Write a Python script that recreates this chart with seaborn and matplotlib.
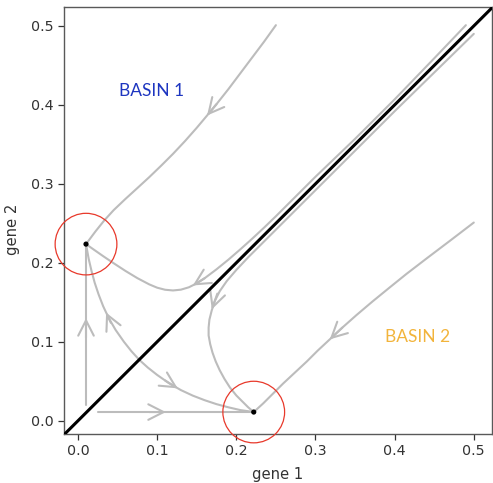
import matplotlib
matplotlib.use("Agg")
import matplotlib.pyplot as plt
from matplotlib.patches import Circle
import seaborn as sns
import pandas as pd

# ---- data ----
fixed_points_x = [0.0101, 0.222]
fixed_points_y = [0.2237, 0.011]

traj_A_x = [0.250, 0.235, 0.220, 0.205, 0.190, 0.175, 0.163, 0.150, 0.135, 0.120, 0.105,
            0.090, 0.075, 0.060, 0.045, 0.033, 0.022, 0.0101]
traj_A_y = [0.501, 0.480, 0.460, 0.440, 0.420, 0.401, 0.3865, 0.371, 0.354, 0.338, 0.323,
            0.3085, 0.2947, 0.281, 0.2667, 0.2535, 0.2397, 0.2237]

traj_B_x = [0.500, 0.470, 0.441, 0.415, 0.394, 0.372, 0.352, 0.334, 0.318, 0.303, 0.289,
            0.274, 0.259, 0.246, 0.234, 0.222]
traj_B_y = [0.251, 0.228, 0.206, 0.186, 0.169, 0.151, 0.134, 0.118, 0.103, 0.089, 0.075,
            0.061, 0.047, 0.034, 0.022, 0.011]

traj_C_x = [0.490, 0.450, 0.400, 0.350, 0.300, 0.270, 0.250, 0.235, 0.220, 0.205, 0.190,
            0.175, 0.160, 0.150, 0.140, 0.130, 0.120, 0.110, 0.100, 0.090, 0.075, 0.060,
            0.045, 0.032, 0.020, 0.0101]
traj_C_y = [0.501, 0.459, 0.407, 0.357, 0.309, 0.279, 0.259, 0.2445, 0.2305, 0.217, 0.204,
            0.1918, 0.1805, 0.174, 0.169, 0.166, 0.165, 0.1659, 0.1685, 0.1727, 0.1806, 0.1897,
            0.1995, 0.2083, 0.2167, 0.2237]

traj_D_x = [0.500, 0.450, 0.400, 0.350, 0.300, 0.260, 0.235, 0.215, 0.200, 0.188, 0.179,
            0.173, 0.169, 0.166, 0.165, 0.165, 0.167, 0.170, 0.174, 0.179, 0.185, 0.192,
            0.200, 0.208, 0.215, 0.222]
traj_D_y = [0.490, 0.441, 0.392, 0.342, 0.292, 0.252, 0.227, 0.207, 0.191, 0.177, 0.164,
            0.152, 0.140, 0.128, 0.118, 0.108, 0.097, 0.086, 0.075, 0.064, 0.053, 0.042,
            0.032, 0.024, 0.017, 0.011]

traj_E_x = [0.0101, 0.0101]
traj_E_y = [0.020, 0.2237]

traj_F_x = [0.025, 0.222]
traj_F_y = [0.011, 0.011]

traj_G_x = [0.0775, 0.0675, 0.058, 0.0475, 0.0388, 0.0318, 0.026, 0.021, 0.017, 0.0135, 0.0101]
traj_G_y = [0.077, 0.088, 0.100, 0.115, 0.130, 0.145, 0.160, 0.175, 0.190, 0.205, 0.2237]

traj_H_x = [0.077, 0.088, 0.100, 0.115, 0.130, 0.145, 0.160, 0.175, 0.190, 0.205, 0.222]
traj_H_y = [0.0775, 0.0675, 0.058, 0.0475, 0.0388, 0.0318, 0.026, 0.021, 0.017, 0.0135, 0.011]

diag_x = [-0.016, 0.53]
diag_y = [-0.016, 0.53]

# arrow tips and the points they come from
arrow_tip_x = [0.163, 0.318, 0.145, 0.169, 0.0101, 0.111, 0.0355, 0.126]
arrow_tip_y = [0.3865, 0.103, 0.1713, 0.141, 0.130, 0.011, 0.137, 0.041]
arrow_from_x = [0.175, 0.334, 0.160, 0.176, 0.0101, 0.090, 0.0415, 0.110]
arrow_from_y = [0.401, 0.118, 0.1805, 0.161, 0.105, 0.011, 0.124, 0.051]

basin_labels = ["BASIN 1", "BASIN 2"]
basin_x = [0.093, 0.429]
basin_y = [0.418, 0.106]
basin_colors = ["#1e36c0", "#f2b43c"]

ticks = [0.0, 0.1, 0.2, 0.3, 0.4, 0.5]
tick_labels = ["0.0", "0.1", "0.2", "0.3", "0.4", "0.5"]

# ---- plotting ----
sns.set_theme(style="ticks")
plt.rcParams["font.family"] = ["DejaVu Sans"]

fig = plt.figure(figsize=(4.93, 4.83), dpi=100)
fig.patch.set_facecolor("white")
ax = fig.add_axes([64 / 493, 1 - 434 / 483, 428 / 493, 427 / 483])

gray = "#bcbcbc"
trajs = [(traj_A_x, traj_A_y), (traj_B_x, traj_B_y), (traj_C_x, traj_C_y),
         (traj_D_x, traj_D_y), (traj_E_x, traj_E_y), (traj_F_x, traj_F_y),
         (traj_G_x, traj_G_y), (traj_H_x, traj_H_y)]
rows = []
for i, (xs, ys) in enumerate(trajs):
    for j, (xv, yv) in enumerate(zip(xs, ys)):
        rows.append({"traj": i, "order": j, "x": xv, "y": yv})
df = pd.DataFrame(rows)
for i in range(len(trajs)):
    sub = df[df["traj"] == i]
    sns.lineplot(data=sub, x="x", y="y", sort=False, estimator=None,
                 color=gray, lw=1.5, ax=ax, zorder=2,
                 solid_joinstyle="round", solid_capstyle="round")

for tx, ty, fx, fy in zip(arrow_tip_x, arrow_tip_y, arrow_from_x, arrow_from_y):
    ax.annotate("", xy=(tx, ty), xytext=(fx, fy),
                arrowprops=dict(arrowstyle="->,head_length=0.55,head_width=0.28",
                                color=gray, lw=1.5, shrinkA=0, shrinkB=0,
                                mutation_scale=20),
                zorder=2)

sns.lineplot(x=diag_x, y=diag_y, color="black", lw=2.2, ax=ax, zorder=3)

sns.scatterplot(x=fixed_points_x, y=fixed_points_y, color="black", s=14,
                edgecolor="none", ax=ax, zorder=4)

for fx, fy in zip(fixed_points_x, fixed_points_y):
    ax.add_patch(Circle((fx, fy), 0.039, fill=False, ec="#e8392b", lw=0.9,
                        clip_on=False, zorder=5))

for lab, bx, by, bc in zip(basin_labels, basin_x, basin_y, basin_colors):
    ax.text(bx, by, lab, color=bc, ha="center", va="center", fontsize=12.5,
            family="Lato")

ax.set_xlim(-0.0177, 0.523)
ax.set_ylim(-0.0168, 0.524)
ax.set_xticks(ticks)
ax.set_xticklabels(tick_labels)
ax.set_yticks(ticks)
ax.set_yticklabels(tick_labels)
ax.tick_params(labelsize=10.3, colors=".2", length=4, width=0.9)
for sp in ax.spines.values():
    sp.set_color(".35")
    sp.set_linewidth(1.0)
    sp.set_visible(True)
ax.set_xlabel("gene 1", fontsize=10.6, color=".2")
ax.set_ylabel("gene 2", fontsize=10.6, color=".2")
ax.xaxis.set_label_coords(0.5, -0.078)
ax.yaxis.set_label_coords(-0.103, 0.48)

fig.savefig("out.png", dpi=100, facecolor="white")
